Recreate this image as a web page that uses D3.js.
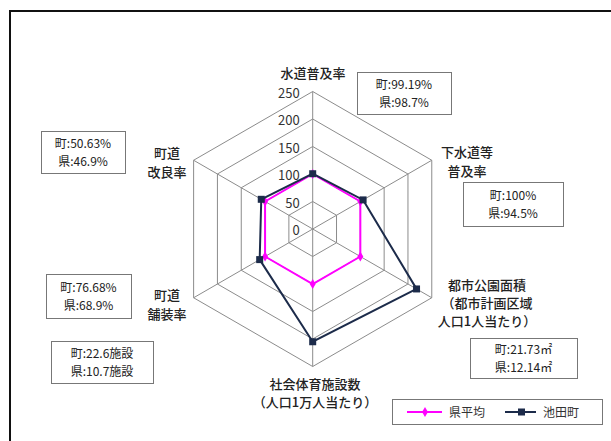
<!DOCTYPE html>
<html>
<head>
<meta charset="utf-8">
<script src="https://cdn.jsdelivr.net/npm/d3@7"></script>
<style>
  html, body { margin: 0; padding: 0; background: #fff; }
  svg { display: block; font-family: "Noto Sans CJK JP", "Noto Sans", sans-serif; }
</style>
</head>
<body>
<svg id="chart" width="611" height="441"></svg>
<script>
// Indicator names, clockwise from the top
const axes = [
  ["水道普及率"],
  ["下水道等", "普及率"],
  ["都市公園面積", "（都市計画区域", "人口1人当たり）"],
  ["社会体育施設数", "（人口1万人当たり）"],
  ["町道", "舗装率"],
  ["町道", "改良率"]
];
// Index values (prefecture average = 100)
const prefIndex = [100, 100, 100, 100, 100, 100];
const townIndex = [100.5, 105.8, 218, 205, 111.3, 108];
// Raw figures shown in the callout boxes
const townRaw = ["99.19%", "100%", "21.73㎡", "22.6施設", "76.68%", "50.63%"];
const prefRaw = ["98.7%", "94.5%", "12.14㎡", "10.7施設", "68.9%", "46.9%"];
const ticks = [0, 50, 100, 150, 200, 250];
const seriesNames = ["県平均", "池田町"];

const svg = d3.select("#chart");
const cx = 312.7, cy = 229;
const r = d3.scaleLinear().domain([0, 250]).range([0, 137.5]);
const ang = d3.scaleLinear().domain([0, axes.length]).range([0, 2 * Math.PI]);
const pt = (i, v) => [cx + r(v) * Math.sin(ang(i)), cy - r(v) * Math.cos(ang(i))];

// outer frame
svg.append("rect").attr("x", 10).attr("y", 11).attr("width", 700).attr("height", 600)
  .attr("fill", "none").attr("stroke", "#111").attr("stroke-width", 2);

// grid hexagons
const grid = svg.append("g");
ticks.slice(1).forEach(t => {
  grid.append("polygon")
    .attr("points", axes.map((_, i) => pt(i, t).join(",")).join(" "))
    .attr("fill", "none").attr("stroke", "#8c8c8c").attr("stroke-width", 1);
});
axes.forEach((_, i) => {
  const [x, y] = pt(i, 250);
  grid.append("line").attr("x1", cx).attr("y1", cy).attr("x2", x).attr("y2", y)
    .attr("stroke", "#8c8c8c").attr("stroke-width", 1);
});

// tick labels along the top spoke
svg.append("g").selectAll("text").data(ticks).join("text")
  .attr("x", cx - 13).attr("y", d => cy - r(d) + 6)
  .attr("text-anchor", "end").attr("font-size", 13).attr("fill", "#333")
  .text(d => d);

// series
const line = d3.line().curve(d3.curveLinearClosed);
function drawSeries(vals, color, width, marker) {
  const pts = vals.map((v, i) => pt(i, v));
  svg.append("path").attr("d", line(pts)).attr("fill", "none")
    .attr("stroke", color).attr("stroke-width", width);
  const g = svg.append("g");
  pts.forEach(([x, y]) => {
    if (marker === "diamond") {
      g.append("path").attr("d", d3.symbol(d3.symbolDiamond, 30)())
        .attr("transform", `translate(${x},${y})`).attr("fill", color);
    } else {
      g.append("rect").attr("x", x - 3.5).attr("y", y - 3.5).attr("width", 7).attr("height", 7)
        .attr("fill", color);
    }
  });
}
drawSeries(prefIndex, "#ff00ff", 2, "diamond");
drawSeries(townIndex, "#1c2b4a", 2, "square");

// axis labels
const labelPos = [
  [313, 72.5], [467, 152], [487, 285], [315, 384], [167, 295], [167, 153]
];
const lineGap = [0, 19, 18, 18, 19, 19];
axes.forEach((lines, i) => {
  const t = svg.append("text").attr("text-anchor", "middle")
    .attr("font-size", 13).attr("fill", "#222").attr("font-weight", 500);
  lines.forEach((s, k) => {
    t.append("tspan").attr("x", labelPos[i][0]).attr("y", labelPos[i][1] + 5 + k * lineGap[i]).text(s);
  });
});

// callout boxes: [x, y, w, h]
const boxes = [
  [357, 72, 94, 42], [463, 182, 100, 44], [470, 338, 107, 40],
  [51, 341, 102, 42], [46, 274, 85, 44], [41, 131, 84, 42]
];
boxes.forEach(([x, y, w, h], i) => {
  svg.append("rect").attr("x", x + 0.5).attr("y", y + 0.5).attr("width", w).attr("height", h)
    .attr("fill", "#fff").attr("stroke", "#777").attr("stroke-width", 1);
  const t = svg.append("text").attr("text-anchor", "middle").attr("font-size", 12).attr("fill", "#222");
  t.append("tspan").attr("x", x + w / 2).attr("y", y + h / 2 - 4).text("町:" + townRaw[i]);
  t.append("tspan").attr("x", x + w / 2).attr("y", y + h / 2 + 14).text("県:" + prefRaw[i]);
});

// legend
const lg = svg.append("g");
lg.append("rect").attr("x", 392.5).attr("y", 399.5).attr("width", 210).attr("height", 25)
  .attr("fill", "#fff").attr("stroke", "#777");
lg.append("line").attr("x1", 407).attr("x2", 442).attr("y1", 412).attr("y2", 412)
  .attr("stroke", "#ff00ff").attr("stroke-width", 2);
lg.append("path").attr("d", d3.symbol(d3.symbolDiamond, 30)())
  .attr("transform", "translate(425,412)").attr("fill", "#ff00ff");
lg.append("text").attr("x", 449).attr("y", 416.5).attr("font-size", 12).attr("fill", "#333").text(seriesNames[0]);
lg.append("line").attr("x1", 505).attr("x2", 536).attr("y1", 412).attr("y2", 412)
  .attr("stroke", "#1c2b4a").attr("stroke-width", 2);
lg.append("rect").attr("x", 518).attr("y", 408.5).attr("width", 7).attr("height", 7).attr("fill", "#1c2b4a");
lg.append("text").attr("x", 543).attr("y", 416.5).attr("font-size", 12).attr("fill", "#333").text(seriesNames[1]);
</script>
</body>
</html>
